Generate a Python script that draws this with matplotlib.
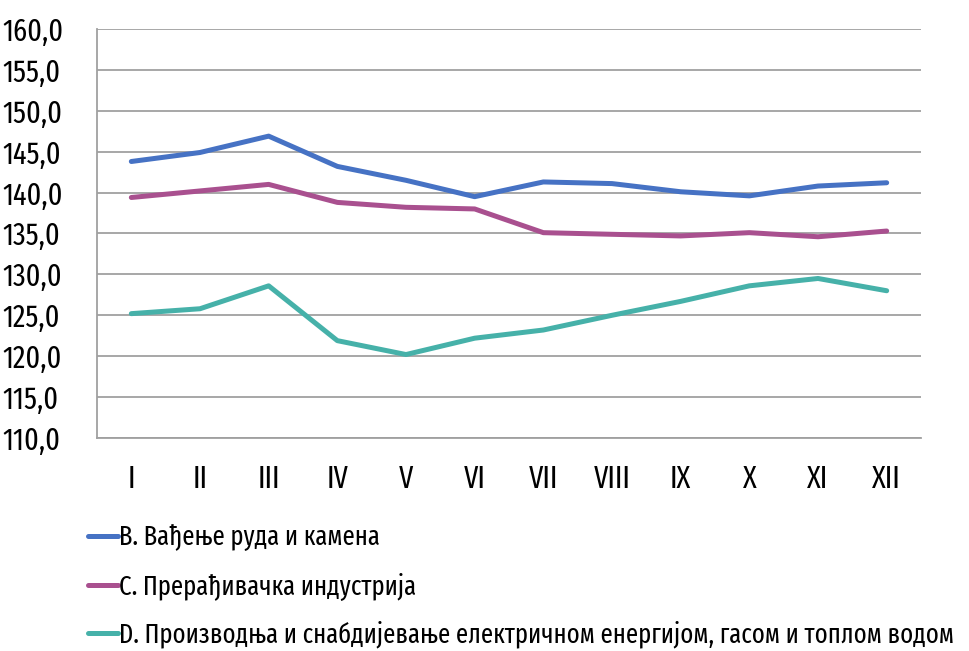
import matplotlib
matplotlib.use('Agg')
import matplotlib.pyplot as plt
from matplotlib.ticker import FuncFormatter

plt.rcParams['font.family'] = ['Fira Sans Extra Condensed', 'DejaVu Sans']

# Data
months = ['I', 'II', 'III', 'IV', 'V', 'VI', 'VII', 'VIII', 'IX', 'X', 'XI', 'XII']
mining = [143.8, 144.9, 146.9, 143.2, 141.5, 139.5, 141.3, 141.1, 140.1, 139.6, 140.8, 141.2]
manufacturing = [139.4, 140.2, 141.0, 138.8, 138.2, 138.0, 135.1, 134.9, 134.7, 135.1, 134.6, 135.3]
energy = [125.2, 125.8, 128.6, 121.9, 120.2, 122.2, 123.2, 125.0, 126.7, 128.6, 129.5, 128.0]
labels = ['B. Вађење руда и камена',
          'C. Прерађивачка индустрија',
          'D. Производња и снабдијевање електричном енергијом, гасом и топлом водом']
colors = ['#4672C4', '#A9508F', '#46B1A9']

fig = plt.figure(figsize=(9.7, 6.51), dpi=100)
ax = fig.add_axes([0.1, 0.3272, 0.8495, 0.6283])

x = range(len(months))
for vals, lab, c in zip([mining, manufacturing, energy], labels, colors):
    ax.plot(x, vals, color=c, linewidth=3.6, label=lab, solid_capstyle='round')

ax.set_xlim(-0.5, len(months) - 0.5)
ax.set_ylim(110, 160)
ax.set_yticks(range(110, 161, 5))
ax.yaxis.set_major_formatter(FuncFormatter(lambda v, p: f'{v:.1f}'.replace('.', ',')))
ax.set_xticks(list(x))
ax.set_xticklabels(months)
ax.grid(True, axis='y', color='#A0A0A0', linewidth=1.3)
ax.set_axisbelow(True)
for s in ['top', 'right']:
    ax.spines[s].set_visible(False)
for s in ['left', 'bottom']:
    ax.spines[s].set_color('#A0A0A0')
    ax.spines[s].set_linewidth(1.3)
ax.tick_params(axis='both', length=0, labelsize=22, colors='black')
ax.tick_params(axis='x', pad=19)
ax.tick_params(axis='y', pad=68)
for t in ax.get_yticklabels():
    t.set_horizontalalignment('left')

fig.legend(loc='upper left', bbox_to_anchor=(88 / 970, 1 - 524 / 651), frameon=False,
           fontsize=19.3, handlelength=1.12, handletextpad=0.05,
           labelspacing=0.78, borderaxespad=0, borderpad=0)

plt.savefig('out.png', dpi=100)
